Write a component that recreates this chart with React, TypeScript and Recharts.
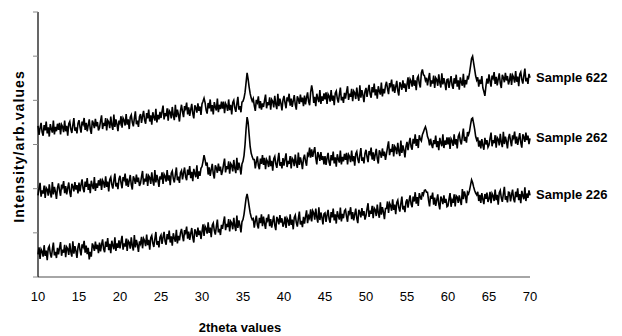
import { LineChart, Line, XAxis, YAxis } from 'recharts'

// XRD scans, 10-70 deg 2theta, step 0.125 (one row = 5 deg)
const START = 10
const STEP = 0.125

const sample622 = [
  342, 322, 337, 349, 328, 320, 344, 332, 352, 325, 339, 318, 346, 335, 327, 354, 323, 340, 330, 347,
  333, 349, 323, 345, 340, 328, 354, 330, 342, 320, 347, 352, 335, 326, 344, 360, 331, 339, 325, 348,
  355, 339, 327, 352, 346, 360, 333, 349, 330, 344, 357, 335, 324, 354, 348, 337, 358, 341, 351, 332,
  338, 353, 366, 335, 349, 342, 360, 332, 355, 351, 337, 363, 344, 333, 368, 340, 357, 346, 330, 354,
  348, 364, 338, 360, 355, 343, 369, 345, 357, 335, 362, 367, 350, 341, 359, 375, 346, 354, 340, 363,
  369, 349, 364, 376, 355, 347, 371, 359, 379, 352, 366, 345, 373, 362, 354, 381, 350, 367, 357, 374,
  360, 375, 388, 357, 371, 364, 382, 354, 377, 373, 359, 385, 366, 355, 390, 362, 379, 368, 352, 376,
  390, 374, 362, 387, 381, 395, 368, 384, 365, 379, 392, 370, 359, 389, 383, 372, 393, 376, 386, 367,
  392, 398, 405, 395, 378, 370, 394, 382, 402, 375, 389, 368, 396, 385, 377, 404, 373, 390, 380, 397,
  381, 397, 371, 393, 388, 376, 402, 378, 390, 368, 395, 400, 383, 374, 392, 408, 379, 387, 373, 396,
  398, 405, 418, 440, 462, 448, 430, 415, 405, 398, 404, 388, 376, 401, 395, 409, 382, 398, 379, 393,
  385, 400, 413, 382, 396, 389, 407, 379, 402, 398, 384, 410, 391, 380, 415, 387, 404, 393, 377, 401,
  410, 394, 382, 407, 401, 415, 388, 404, 385, 399, 412, 390, 379, 409, 403, 392, 413, 396, 406, 387,
  411, 391, 406, 418, 397, 389, 418, 434, 420, 394, 408, 387, 415, 404, 396, 423, 392, 409, 399, 416,
  402, 418, 392, 414, 409, 397, 423, 399, 411, 389, 416, 421, 404, 395, 413, 429, 400, 408, 394, 417,
  404, 419, 432, 401, 415, 408, 426, 398, 421, 417, 403, 429, 410, 399, 434, 406, 423, 412, 396, 420,
  428, 408, 423, 435, 414, 406, 430, 418, 438, 411, 425, 404, 432, 421, 413, 440, 409, 426, 416, 433,
  442, 426, 414, 439, 433, 447, 420, 436, 417, 431, 444, 422, 411, 441, 435, 424, 445, 428, 438, 419,
  436, 452, 426, 448, 443, 431, 457, 433, 445, 423, 450, 455, 438, 429, 462, 470, 458, 456, 445, 451,
  434, 449, 462, 431, 445, 438, 456, 428, 451, 447, 433, 459, 440, 429, 461, 436, 450, 439, 423, 447,
  448, 428, 443, 455, 434, 426, 450, 438, 458, 431, 445, 424, 452, 441, 433, 460, 429, 446, 436, 453,
  450, 462, 478, 495, 500, 485, 470, 455, 446, 452, 431, 447, 437, 455, 428, 420, 410, 432, 449, 438,
  459, 443, 431, 456, 450, 464, 437, 453, 434, 448, 461, 439, 428, 458, 452, 441, 462, 445, 455, 436,
  445, 461, 435, 457, 452, 440, 466, 442, 454, 432, 459, 464, 447, 438, 456, 472, 443, 451, 437, 460,
  451,
]

const sample262 = [
  185, 200, 213, 182, 196, 189, 207, 179, 202, 198, 184, 210, 191, 180, 215, 187, 204, 193, 177, 201,
  212, 196, 184, 209, 203, 217, 190, 206, 187, 201, 214, 192, 181, 211, 205, 194, 215, 198, 208, 189,
  214, 194, 209, 221, 200, 192, 216, 204, 224, 197, 211, 190, 218, 207, 199, 226, 195, 212, 202, 219,
  207, 223, 197, 219, 214, 202, 228, 204, 216, 194, 221, 226, 209, 200, 218, 234, 205, 213, 199, 222,
  229, 213, 201, 226, 220, 234, 207, 223, 204, 218, 231, 209, 198, 228, 222, 211, 232, 215, 225, 206,
  212, 227, 240, 209, 223, 216, 234, 206, 229, 225, 211, 237, 218, 207, 242, 214, 231, 220, 204, 228,
  221, 237, 211, 233, 228, 216, 242, 218, 230, 208, 235, 240, 223, 214, 232, 248, 219, 227, 213, 236,
  241, 221, 236, 248, 227, 219, 243, 231, 251, 224, 238, 217, 245, 234, 226, 253, 222, 239, 229, 246,
  250, 262, 276, 265, 252, 259, 232, 248, 229, 243, 256, 234, 223, 253, 247, 236, 257, 240, 250, 231,
  240, 255, 268, 237, 251, 244, 262, 234, 257, 253, 239, 265, 246, 235, 270, 242, 259, 248, 232, 256,
  262, 275, 300, 335, 362, 350, 322, 295, 280, 272, 266, 266, 246, 261, 273, 252, 244, 268, 256, 276,
  254, 270, 244, 266, 261, 249, 275, 251, 263, 241, 268, 273, 256, 247, 265, 281, 252, 260, 246, 269,
  252, 267, 280, 249, 263, 256, 274, 246, 269, 265, 251, 277, 258, 247, 282, 254, 271, 260, 244, 268,
  277, 262, 252, 279, 275, 293, 270, 289, 272, 284, 294, 269, 255, 283, 275, 263, 283, 265, 274, 255,
  274, 254, 269, 281, 260, 252, 276, 264, 284, 257, 271, 250, 278, 267, 259, 286, 255, 272, 262, 279,
  265, 281, 255, 277, 272, 260, 286, 262, 274, 252, 279, 284, 267, 258, 276, 292, 263, 271, 257, 280,
  288, 272, 260, 285, 279, 293, 266, 282, 263, 277, 290, 268, 257, 287, 281, 270, 291, 274, 284, 265,
  279, 294, 307, 276, 290, 283, 301, 273, 296, 292, 278, 304, 285, 274, 309, 281, 298, 287, 271, 295,
  306, 287, 303, 315, 295, 288, 313, 302, 323, 297, 312, 292, 321, 312, 308, 322, 328, 335, 340, 332,
  318, 312, 298, 313, 300, 292, 310, 301, 320, 294, 308, 287, 315, 304, 296, 323, 292, 309, 299, 316,
  300, 316, 290, 313, 308, 297, 323, 300, 312, 291, 318, 324, 308, 300, 319, 336, 308, 317, 304, 328,
  322, 330, 345, 358, 360, 348, 335, 318, 310, 316, 295, 309, 291, 312, 298, 288, 315, 300, 310, 294,
  299, 314, 327, 296, 310, 303, 321, 293, 316, 312, 298, 324, 305, 294, 329, 301, 318, 307, 291, 315,
  324, 308, 296, 321, 315, 329, 302, 318, 299, 313, 326, 304, 293, 323, 317, 306, 327, 310, 320, 301,
  314,
]

const sample226 = [
  51, 67, 41, 63, 58, 46, 72, 48, 60, 38, 65, 70, 53, 44, 62, 78, 49, 57, 43, 66,
  51, 66, 79, 48, 62, 55, 73, 45, 68, 64, 50, 76, 57, 46, 81, 53, 70, 59, 43, 67,
  77, 61, 49, 74, 68, 82, 55, 71, 52, 66, 40, 57, 46, 76, 70, 59, 80, 63, 73, 54,
  78, 58, 73, 85, 64, 56, 80, 68, 88, 61, 75, 54, 82, 71, 63, 90, 59, 76, 66, 83,
  65, 80, 93, 62, 76, 69, 87, 59, 82, 78, 64, 90, 71, 60, 95, 67, 84, 73, 57, 81,
  75, 91, 65, 87, 82, 70, 96, 72, 84, 62, 89, 94, 77, 68, 86, 102, 73, 81, 67, 90,
  95, 75, 90, 102, 81, 73, 97, 85, 105, 78, 92, 71, 99, 88, 80, 107, 76, 93, 83, 100,
  109, 93, 81, 106, 100, 114, 87, 103, 84, 98, 111, 89, 78, 108, 102, 91, 112, 95, 105, 86,
  103, 119, 93, 115, 110, 98, 124, 100, 112, 90, 117, 122, 105, 96, 114, 130, 101, 109, 95, 118,
  109, 124, 137, 106, 120, 113, 131, 103, 126, 122, 108, 134, 115, 104, 139, 111, 128, 117, 101, 125,
  130, 142, 160, 178, 188, 176, 160, 145, 136, 130, 132, 112, 127, 139, 118, 110, 134, 122, 142, 115,
  137, 121, 109, 134, 128, 142, 115, 131, 112, 126, 139, 117, 106, 136, 130, 119, 140, 123, 133, 114,
  121, 137, 111, 133, 128, 116, 142, 118, 130, 108, 135, 140, 123, 114, 132, 148, 119, 127, 113, 136,
  121, 137, 151, 122, 138, 133, 153, 126, 150, 145, 130, 155, 135, 123, 158, 129, 146, 135, 119, 143,
  145, 125, 140, 152, 131, 123, 147, 135, 155, 128, 142, 121, 149, 138, 130, 157, 126, 143, 133, 150,
  153, 137, 125, 150, 144, 158, 131, 147, 128, 142, 155, 133, 122, 152, 146, 135, 156, 139, 149, 130,
  139, 154, 167, 136, 150, 143, 161, 133, 156, 152, 138, 164, 145, 134, 169, 141, 158, 147, 131, 155,
  155, 171, 145, 167, 162, 150, 176, 152, 164, 142, 169, 174, 157, 148, 166, 182, 153, 161, 147, 170,
  176, 157, 173, 185, 165, 158, 182, 171, 192, 166, 181, 161, 190, 181, 175, 192, 186, 196, 197, 192,
  192, 174, 160, 184, 177, 191, 164, 180, 161, 174, 187, 165, 153, 182, 176, 165, 185, 168, 177, 159,
  161, 177, 190, 159, 174, 168, 187, 160, 184, 181, 168, 185, 173, 163, 199, 176, 194, 184, 167, 192,
  188, 196, 208, 220, 214, 204, 196, 190, 186, 193, 172, 186, 168, 190, 176, 165, 188, 177, 191, 170,
  177, 193, 167, 189, 184, 172, 198, 174, 186, 164, 191, 196, 179, 170, 188, 204, 175, 183, 169, 192,
  191, 171, 186, 198, 177, 169, 193, 181, 201, 174, 188, 167, 195, 184, 176, 203, 172, 189, 179, 196,
  185,
]

const xTicks = [10, 15, 20, 25, 30, 35, 40, 45, 50, 55, 60, 65, 70]
const yTicks = [0, 100, 200, 300, 400, 500, 600]

const data = sample622.map((v, i) => ({
  theta: START + i * STEP,
  s622: v,
  s262: sample262[i],
  s226: sample226[i],
}))

const LAST = data.length - 1

const endLabel = (name: string) => (props: any) => {
  if (props.index !== LAST) return null
  return (
    <text x={props.x + 6} y={props.y} dy={4} fontSize={13} fontWeight='bold' fill='#000'>
      {name}
    </text>
  )
}

// y ticks have marks but no numbers
const NoTick = () => <g />

const YLabel = ({ viewBox }: any) => {
  const cx = viewBox.x + 19
  const cy = viewBox.y + viewBox.height / 2 + 2
  return (
    <text
      x={cx}
      y={cy}
      transform={`rotate(-90 ${cx} ${cy})`}
      textAnchor='middle'
      dominantBaseline='central'
      fontSize={14}
      fontWeight='bold'
      letterSpacing={1.1}
      fill='#000'
    >
      Intensity/arb.values
    </text>
  )
}

const XLabel = ({ viewBox }: any) => (
  <text x={viewBox.x + viewBox.width / 2 - 44} y={332} textAnchor='middle' fontSize={13} fontWeight='bold' fill='#000'>
    2theta values
  </text>
)

export default function App() {
  return (
    <div style={{ position: 'absolute', left: 0, top: 0, fontFamily: '"Liberation Sans", Arial, sans-serif', background: '#fff' }}>
      <LineChart width={622} height={336} data={data} margin={{ top: 12, right: 92, bottom: 0, left: 0 }}>
        <XAxis
          dataKey='theta'
          type='number'
          domain={[10, 70]}
          ticks={xTicks}
          axisLine={{ stroke: '#888', strokeWidth: 1.5 }}
          tickLine={false}
          tickMargin={9}
          tick={{ fill: '#000', fontSize: 13 }}
          height={59}
          label={<XLabel />}
        />
        <YAxis
          type='number'
          domain={[0, 600]}
          ticks={yTicks}
          width={38}
          tick={NoTick}
          tickSize={5}
          tickLine={{ stroke: '#888' }}
          axisLine={{ stroke: '#000', strokeWidth: 1.2 }}
          label={<YLabel />}
        />
        <Line dataKey='s622' stroke='#000' strokeWidth={1.6} dot={false} isAnimationActive={false} label={endLabel('Sample 622')} />
        <Line dataKey='s262' stroke='#000' strokeWidth={1.6} dot={false} isAnimationActive={false} label={endLabel('Sample 262')} />
        <Line dataKey='s226' stroke='#000' strokeWidth={1.6} dot={false} isAnimationActive={false} label={endLabel('Sample 226')} />
      </LineChart>
    </div>
  )
}
